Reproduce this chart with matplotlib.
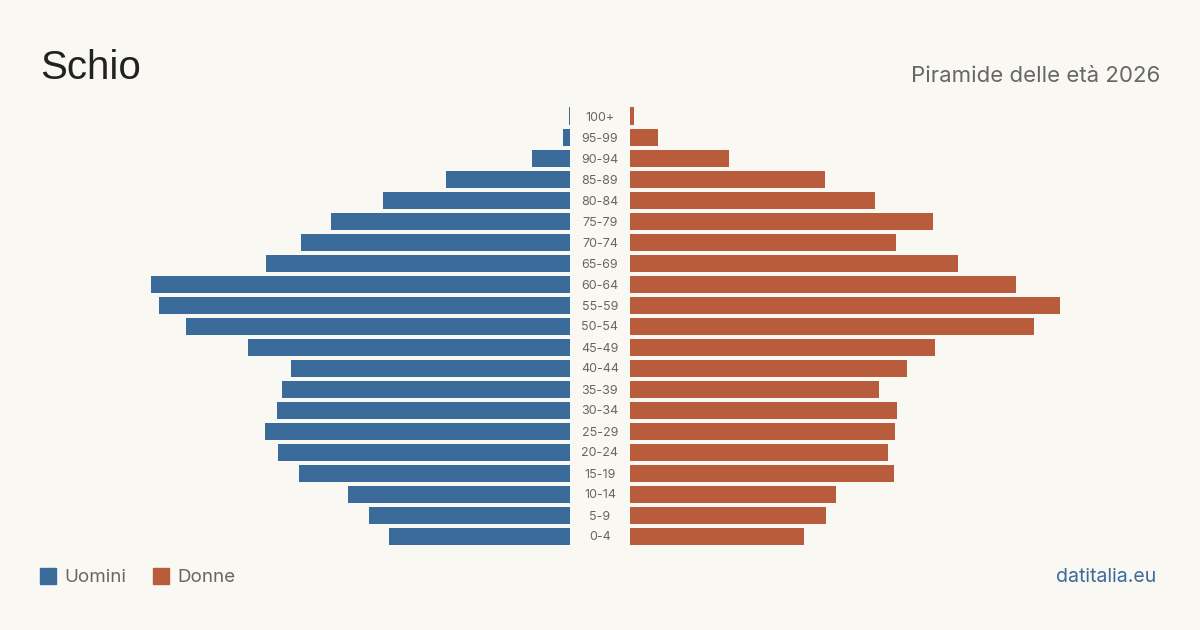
import numpy as np
import matplotlib.pyplot as plt

plt.rcParams['font.family'] = ['Inter', 'DejaVu Sans']

ages = ['0-4', '5-9', '10-14', '15-19', '20-24', '25-29', '30-34', '35-39',
        '40-44', '45-49', '50-54', '55-59', '60-64', '65-69', '70-74',
        '75-79', '80-84', '85-89', '90-94', '95-99', '100+']
uomini = [688, 764, 844, 1030, 1110, 1159, 1113, 1094, 1060, 1224, 1459,
          1562, 1592, 1155, 1022, 908, 711, 471, 144, 27, 4]
donne = [661, 745, 783, 1003, 980, 1007, 1015, 946, 1053, 1159, 1535,
         1634, 1467, 1246, 1011, 1151, 931, 741, 376, 106, 15]

bg = '#faf8f3'
blu = '#3b6b9b'
ros = '#b85c3c'
grigio = '#666666'

W, H = 1200, 630
fig = plt.figure(figsize=(12, 6.3), dpi=100, facecolor=bg)

xmax = 530 * 3.8
y = np.arange(len(ages))
bottom = 1 - 546.5 / H
height = 441 / H

ax_l = fig.add_axes([40 / W, bottom, 530 / W, height])
ax_r = fig.add_axes([630 / W, bottom, 530 / W, height])

ax_l.barh(y, uomini, height=17 / 21, color=blu)
ax_r.barh(y, donne, height=17 / 21, color=ros)
ax_l.set_xlim(xmax, 0)
ax_r.set_xlim(0, xmax)

for ax in (ax_l, ax_r):
    ax.set_ylim(-0.5, len(ages) - 0.5)
    ax.set_facecolor('none')
    ax.axis('off')

# etichette centrali
for i, a in enumerate(ages):
    fig.text(600 / W, bottom + (i + 0.5) / len(ages) * height - 1.5 / H, a,
             ha='center', va='center', fontsize=9, color=grigio)

fig.text(40 / W, 1 - 68 / H, 'Schio', fontsize=29, color='#222222',
         ha='left', va='center', family=['Liberation Sans', 'DejaVu Sans'])
fig.text(1160 / W, 1 - 76 / H, 'Piramide delle età 2026', fontsize=16,
         color=grigio, ha='right', va='center')

# legenda
fig.patches.append(plt.Rectangle((40 / W, 1 - 584 / H), 16 / W, 16 / H,
                                 color=blu, transform=fig.transFigure))
fig.text(64 / W, 1 - 577.5 / H, 'Uomini', fontsize=13.5, color=grigio,
         ha='left', va='center')
fig.patches.append(plt.Rectangle((153 / W, 1 - 584 / H), 16 / W, 16 / H,
                                 color=ros, transform=fig.transFigure))
fig.text(177 / W, 1 - 577.5 / H, 'Donne', fontsize=13.5, color=grigio,
         ha='left', va='center')

fig.text(1156 / W, 1 - 577 / H, 'datitalia.eu', fontsize=14, color=blu,
         ha='right', va='center')

fig.savefig('out.png', dpi=100, facecolor=bg)
